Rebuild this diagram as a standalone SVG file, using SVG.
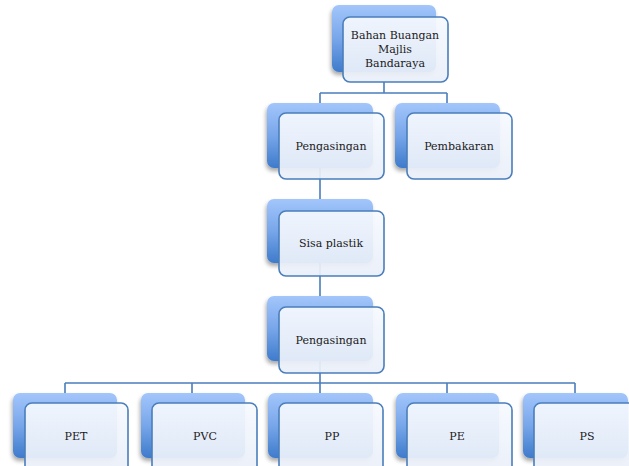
<svg xmlns="http://www.w3.org/2000/svg" width="629" height="466" viewBox="0 0 629 466">
<defs>
<linearGradient id="gBack" x1="0" y1="0" x2="0" y2="1">
<stop offset="0" stop-color="#a3c6fb"/>
<stop offset="0.5" stop-color="#78a6ea"/>
<stop offset="1" stop-color="#3e7bcb"/>
</linearGradient>
<linearGradient id="gFront" x1="0" y1="0" x2="0" y2="1">
<stop offset="0" stop-color="#f6f9fe"/>
<stop offset="1" stop-color="#e9eff9"/>
</linearGradient>
<filter id="sh" x="-20%" y="-20%" width="140%" height="150%">
<feGaussianBlur in="SourceAlpha" stdDeviation="2"/>
<feOffset dx="-1" dy="3" result="b"/>
<feComponentTransfer><feFuncA type="linear" slope="0.35"/></feComponentTransfer>
<feMerge><feMergeNode/><feMergeNode in="SourceGraphic"/></feMerge>
</filter>
</defs>
<style>
.back{fill:url(#gBack);filter:url(#sh)}
.front{fill:url(#gFront);fill-opacity:0.93;stroke:#4a7ebb;stroke-width:1.6}
.conn{fill:none;stroke:#4a7ebb;stroke-width:1.6}
text{font-family:"DejaVu Serif","Liberation Serif",serif;font-size:11px;fill:#1a1a1a;text-anchor:middle}
</style>
<rect width="629" height="466" fill="#ffffff"/>
<g id="connectors">
<path class="conn" d="M384 82 V93 M320 93 H447 M320 93 V103 M447 93 V103"/>
<path class="conn" d="M320 168 V199 M320 263 V296 M320 361 V393"/>
<path class="conn" d="M65 383 H575 M65 383 V393 M192 383 V393 M447 383 V393 M575 383 V393"/>
</g>
<g id="n-bahan">
<rect class="back" x="332" y="5" width="104" height="67" rx="7"/>
<rect class="front" x="343" y="17" width="105" height="65" rx="7"/>
<text x="395" y="39">Bahan Buangan</text>
<text x="395" y="53">Majlis</text>
<text x="395" y="67">Bandaraya</text>
</g>
<g id="n-pengasingan1">
<rect class="back" x="267" y="103" width="106" height="65" rx="7"/>
<rect class="front" x="279" y="113" width="105" height="66" rx="7"/>
<text x="331" y="150">Pengasingan</text>
</g>
<g id="n-pembakaran">
<rect class="back" x="395" y="103" width="105" height="65" rx="7"/>
<rect class="front" x="407" y="113" width="105" height="66" rx="7"/>
<text x="459" y="150">Pembakaran</text>
</g>
<g id="n-sisa">
<rect class="back" x="267" y="199" width="106" height="64" rx="7"/>
<rect class="front" x="279" y="211" width="105" height="65" rx="7"/>
<text x="331" y="247">Sisa plastik</text>
</g>
<g id="n-pengasingan2">
<rect class="back" x="267" y="296" width="106" height="65" rx="7"/>
<rect class="front" x="279" y="307" width="105" height="66" rx="7"/>
<text x="331" y="344">Pengasingan</text>
</g>
<g id="n-pet">
<rect class="back" x="13" y="393" width="104" height="65" rx="7"/>
<rect class="front" x="25" y="403" width="103" height="70" rx="7"/>
<text x="76" y="440">PET</text>
</g>
<g id="n-pvc">
<rect class="back" x="141" y="393" width="104" height="65" rx="7"/>
<rect class="front" x="152" y="403" width="105" height="70" rx="7"/>
<text x="205" y="440">PVC</text>
</g>
<g id="n-pp">
<rect class="back" x="268" y="393" width="105" height="65" rx="7"/>
<rect class="front" x="279" y="403" width="104" height="70" rx="7"/>
<text x="332" y="440">PP</text>
</g>
<g id="n-pe">
<rect class="back" x="396" y="393" width="103" height="65" rx="7"/>
<rect class="front" x="407" y="403" width="105" height="70" rx="7"/>
<text x="457" y="440">PE</text>
</g>
<g id="n-ps">
<rect class="back" x="523" y="393" width="105" height="65" rx="7"/>
<rect class="front" x="534" y="403" width="105" height="70" rx="7"/>
<text x="587" y="440">PS</text>
</g>
</svg>
